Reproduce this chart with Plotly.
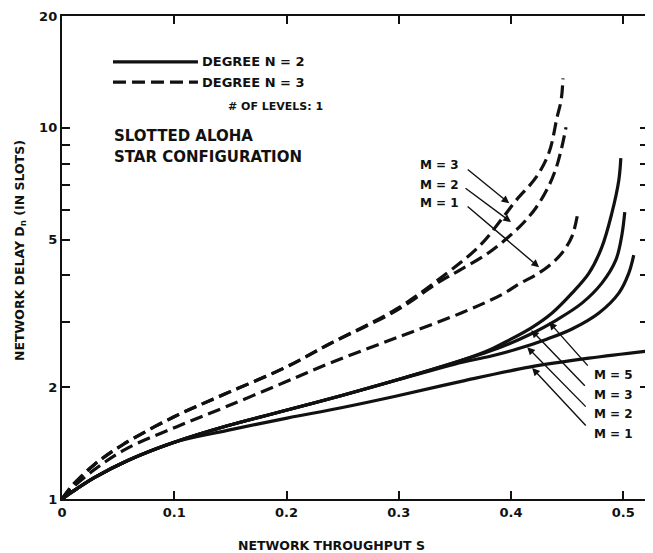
import math
import plotly.graph_objects as go

# ---------------- data ----------------
# Degree N = 3 (dashed)
n3_m3_s = [0, 0.008, 0.0284, 0.0541, 0.0994, 0.1455, 0.1988, 0.2387, 0.2981, 0.3425,
           0.3718, 0.3922, 0.4046, 0.4224, 0.4339, 0.441, 0.4446, 0.4463]
n3_m3_d = [1, 1.077, 1.235, 1.40, 1.663, 1.92, 2.26, 2.62, 3.25, 4.05,
           4.80, 5.70, 6.38, 7.36, 8.59, 10.67, 11.86, 13.59]

n3_m2_s = [0, 0.008, 0.0284, 0.0541, 0.0994, 0.1455, 0.1988, 0.2387, 0.2981, 0.3363,
           0.354, 0.3807, 0.4073, 0.4224, 0.4339, 0.4401, 0.4446, 0.449]
n3_m2_d = [1, 1.077, 1.235, 1.40, 1.663, 1.92, 2.26, 2.62, 3.22, 3.85,
           4.13, 4.62, 5.40, 6.10, 7.00, 7.78, 8.70, 10.03]

n3_m1_s = [0, 0.008, 0.0284, 0.0568, 0.0994, 0.1455, 0.1988, 0.2387, 0.2981, 0.3567,
           0.3922, 0.4073, 0.4224, 0.4339, 0.4454, 0.4543, 0.4596]
n3_m1_d = [1, 1.064, 1.197, 1.363, 1.553, 1.769, 2.065, 2.323, 2.72, 3.18,
           3.56, 3.80, 4.02, 4.25, 4.60, 5.10, 5.923]

# Degree N = 2 (solid)
n2_m1_s = [0, 0.008, 0.0284, 0.0586, 0.0994, 0.1473, 0.2005, 0.2476, 0.2981, 0.3567,
           0.4162, 0.4694, 0.5209, 0.53]
n2_m1_d = [1, 1.04, 1.14, 1.27, 1.42, 1.53, 1.652, 1.758, 1.894, 2.078,
           2.266, 2.396, 2.503, 2.52]

n2_m2_s = [0, 0.008, 0.0284, 0.0586, 0.0994, 0.1473, 0.2005, 0.2476, 0.2981, 0.3567,
           0.3807, 0.4046, 0.4312, 0.4543, 0.4783, 0.496, 0.5049, 0.5093]
n2_m2_d = [1, 1.04, 1.14, 1.27, 1.42, 1.575, 1.736, 1.894, 2.091, 2.338,
           2.42, 2.53, 2.69, 2.87, 3.17, 3.585, 4.058, 4.537]

n2_m3_s = [0, 0.008, 0.0284, 0.0586, 0.0994, 0.1473, 0.2005, 0.2476, 0.2981, 0.3567,
           0.3807, 0.3984, 0.4162, 0.4401, 0.4632, 0.4809, 0.4933, 0.4987, 0.5013]
n2_m3_d = [1, 1.04, 1.14, 1.27, 1.42, 1.575, 1.736, 1.894, 2.091, 2.367,
           2.50, 2.62, 2.77, 3.03, 3.37, 3.815, 4.399, 5.136, 5.923]

n2_m5_s = [0, 0.008, 0.0284, 0.0586, 0.0994, 0.1473, 0.2005, 0.2476, 0.2981, 0.3567,
           0.3807, 0.3984, 0.4188, 0.4366, 0.4543, 0.4694, 0.4809, 0.4898, 0.496, 0.4978]
n2_m5_d = [1, 1.04, 1.14, 1.27, 1.42, 1.575, 1.736, 1.894, 2.091, 2.367,
           2.52, 2.68, 2.90, 3.17, 3.585, 4.058, 4.769, 5.887, 7.222, 8.279]

x_ticks = [0, 0.1, 0.2, 0.3, 0.4, 0.5]
x_tick_text = ["0", "0.1", "0.2", "0.3", "0.4", "0.5"]
y_ticks = [1, 2, 3, 4, 5, 6, 7, 8, 9, 10, 20]
y_tick_text = ["1", "2", "", "", "5", "", "", "", "", "10", "20"]

# ---------------- figure ----------------
FONT = "DejaVu Sans, Liberation Sans, sans-serif"
INK = "#111111"

fig = go.Figure()

def add_curve(s, d, dashed):
    fig.add_trace(go.Scatter(
        x=s, y=d, mode="lines", showlegend=False, hoverinfo="skip",
        line=dict(color=INK, width=3.2, shape="spline", smoothing=1.0,
                  dash="13px,6px" if dashed else "solid"),
    ))

add_curve(n3_m3_s, n3_m3_d, True)
add_curve(n3_m2_s, n3_m2_d, True)
add_curve(n3_m1_s, n3_m1_d, True)
add_curve(n2_m1_s, n2_m1_d, False)
add_curve(n2_m2_s, n2_m2_d, False)
add_curve(n2_m3_s, n2_m3_d, False)
add_curve(n2_m5_s, n2_m5_d, False)

annotations = []
shapes = []

# legend (drawn manually, long line samples)
shapes.append(dict(type="line", xref="paper", yref="paper", x0=0.087, x1=0.232,
                   y0=0.905, y1=0.905, line=dict(color=INK, width=3.2)))
shapes.append(dict(type="line", xref="paper", yref="paper", x0=0.087, x1=0.232,
                   y0=0.863, y1=0.863, line=dict(color=INK, width=3.2, dash="13px,6px")))

def txt(x, y, t, size, anchor="left", angle=0):
    annotations.append(dict(xref="paper", yref="paper", x=x, y=y, text=t, showarrow=False,
                            xanchor=anchor, yanchor="middle", textangle=angle,
                            font=dict(family=FONT, size=size, color=INK)))

txt(0.236, 0.905, "<b>DEGREE N = 2</b>", 13)
txt(0.236, 0.863, "<b>DEGREE N = 3</b>", 13)
txt(0.280, 0.812, "<b># OF LEVELS: 1</b>", 11)
txt(0.086, 0.752, "<b>SLOTTED ALOHA</b>", 15)
txt(0.086, 0.708, "<b>STAR CONFIGURATION</b>", 15)

# M labels
txt(0.608, 0.692, "<b>M = 3</b>", 12)
txt(0.608, 0.651, "<b>M = 2</b>", 12)
txt(0.608, 0.613, "<b>M = 1</b>", 12)
txt(0.905, 0.257, "<b>M = 5</b>", 12)
txt(0.905, 0.216, "<b>M = 3</b>", 12)
txt(0.905, 0.175, "<b>M = 2</b>", 12)
txt(0.905, 0.135, "<b>M = 1</b>", 12)

# axis titles
txt(0.46, -0.097, "<b>NETWORK THROUGHPUT S</b>", 12.5, anchor="center")
txt(-0.072, 0.515, "<b>NETWORK DELAY D<sub>n</sub> (IN SLOTS)</b>", 12.5, anchor="center", angle=-90)

def leader(xd, yd, ax, ay):
    annotations.append(dict(x=xd, y=math.log10(yd), xref="x", yref="y", text="",
                            showarrow=True, ax=ax, ay=ay, arrowhead=2, arrowsize=1.1,
                            arrowwidth=1.4, arrowcolor=INK, standoff=0))

leader(0.3984, 6.26, -43, -35)
leader(0.400, 5.57, -47, -35)
leader(0.425, 4.21, -73, -62)
leader(0.4339, 2.995, 40, 45)
leader(0.418, 2.85, 55, 57)
leader(0.4144, 2.565, 60, 61)
leader(0.4188, 2.253, 55, 59)

# the page body adds an 8 px offset, so the figure is 8 px smaller and shifted
fig.update_layout(
    width=645, height=545,
    margin=dict(l=54, r=5, t=8, b=54, autoexpand=False),
    paper_bgcolor="white", plot_bgcolor="white",
    font=dict(family=FONT, color=INK),
    showlegend=False,
    annotations=annotations,
    shapes=shapes,
    xaxis=dict(
        range=[0, 0.522], tickvals=x_ticks, ticktext=x_tick_text, automargin=False,
        ticks="inside", ticklen=8, tickwidth=1.5, tickcolor=INK,
        showline=True, linewidth=2.4, linecolor=INK, mirror="ticks",
        showgrid=False, zeroline=False,
        tickfont=dict(family=FONT, size=13, color=INK, weight="bold"),
    ),
    yaxis=dict(
        type="log", range=[0, math.log10(20)], tickvals=y_ticks, ticktext=y_tick_text,
        automargin=False,
        ticks="inside", ticklen=8, tickwidth=1.5, tickcolor=INK,
        showline=True, linewidth=2.4, linecolor=INK, mirror="ticks",
        showgrid=False, zeroline=False,
        tickfont=dict(family=FONT, size=13, color=INK, weight="bold"),
    ),
)

fig.write_html("out.html")
